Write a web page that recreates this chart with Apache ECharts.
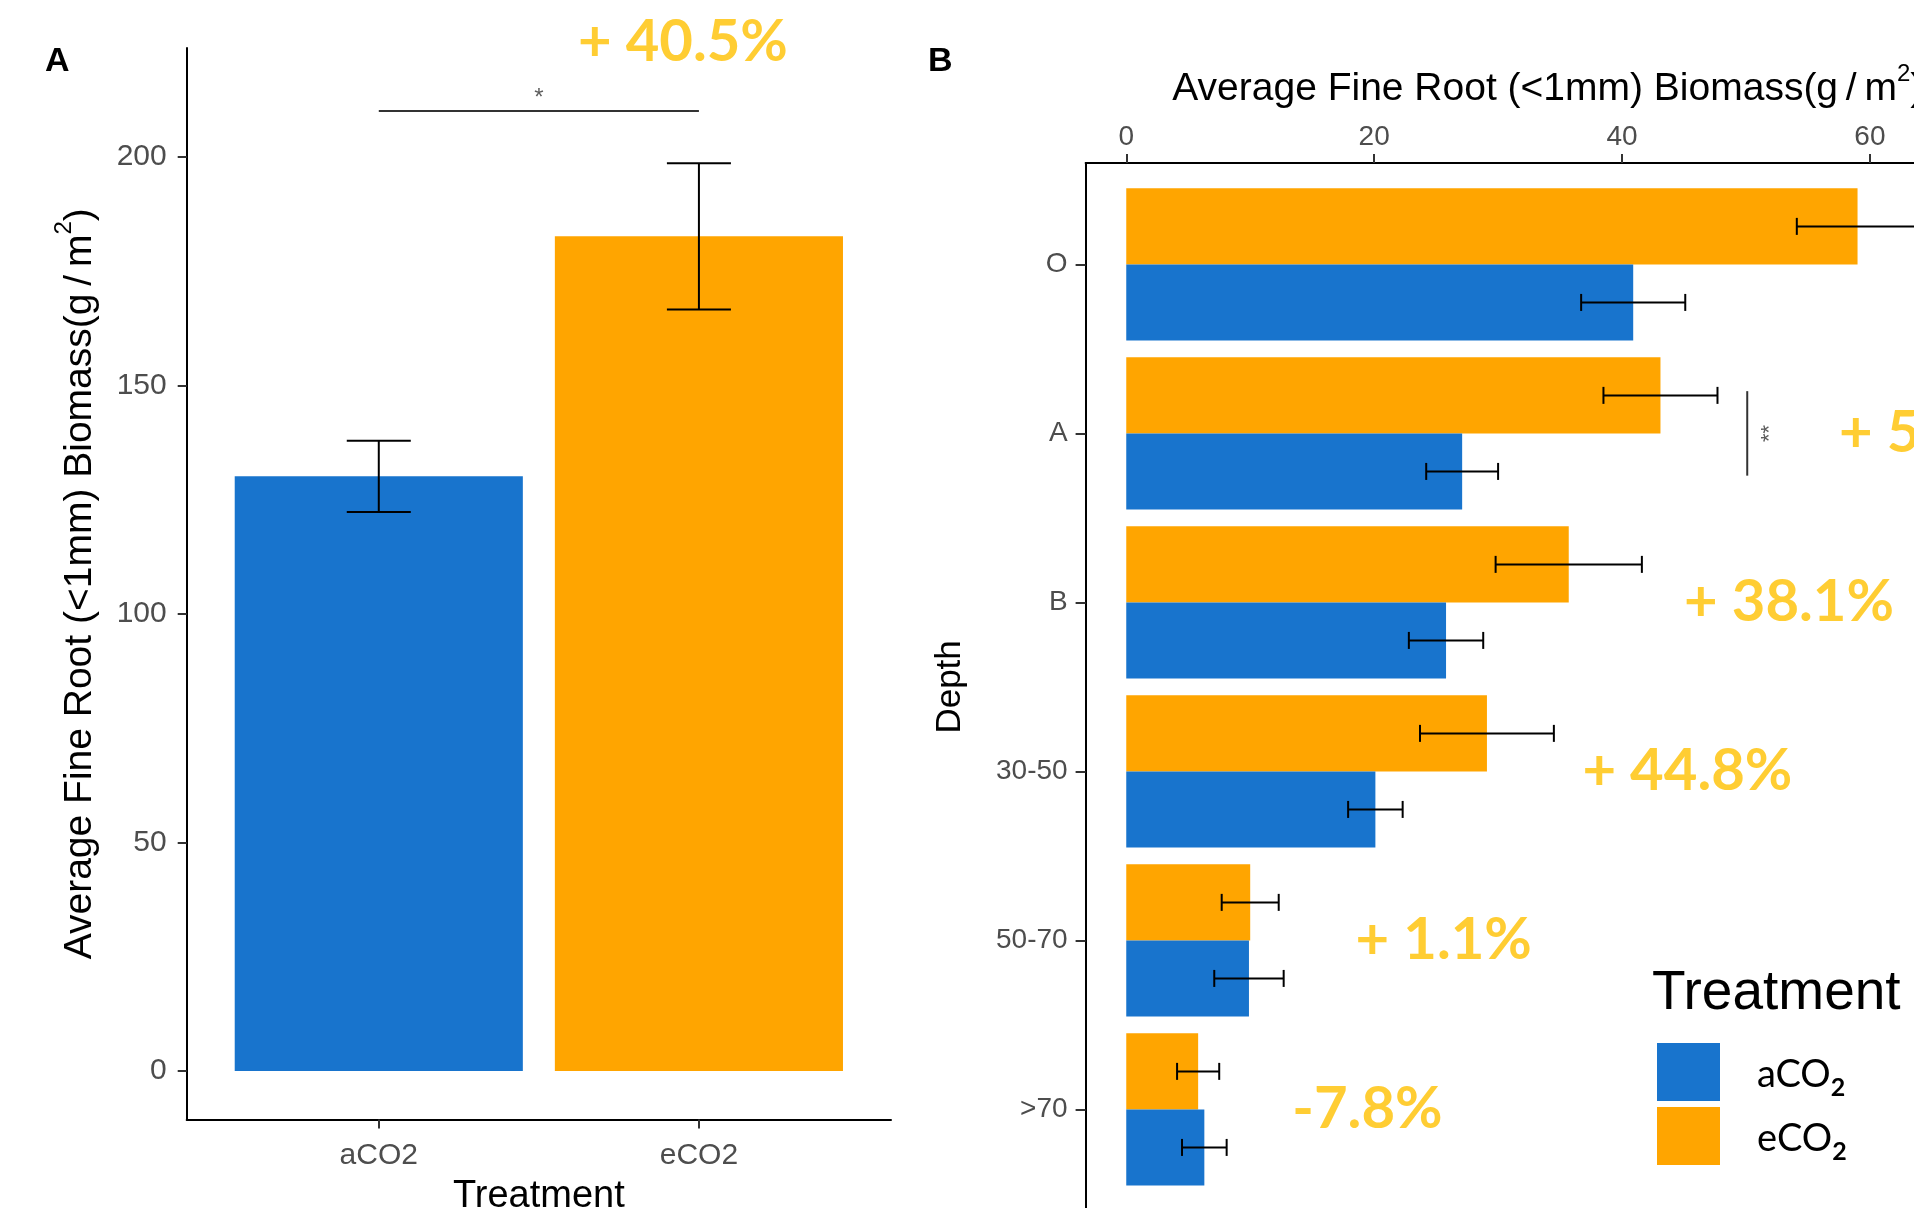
<!DOCTYPE html>
<html>
<head>
<meta charset="utf-8">
<script src="https://cdn.jsdelivr.net/npm/echarts@6.0.0/dist/echarts.min.js"></script>
<style>
  html, body { margin: 0; padding: 0; background: #fff; }
  #chart { width: 1914px; height: 1208px; }
</style>
</head>
<body>
<div id="chart"></div>
<script>
'use strict';

/* Panel A: whole profile */
const treatments = ['aCO2', 'eCO2'];
const totalMean = [130.1, 182.6];
const totalSe = [7.8, 16.0];
const totalChange = '+ 40.5%';

/* Panel B: by depth */
const depths = ['O', 'A', 'B', '30-50', '50-70', '>70'];
const aco2Mean = [40.9, 27.1, 25.8, 20.1, 9.9, 6.3];
const aco2Se = [4.2, 2.9, 3.0, 2.2, 2.8, 1.8];
const eco2Mean = [59.0, 43.1, 35.7, 29.1, 10.0, 5.8];
const eco2Se = [4.9, 4.6, 5.9, 5.4, 2.3, 1.7];

// % change notes; the O one falls off the cropped figure
const changeRows = ['A', 'B', '30-50', '50-70', '>70'];
const changeText = ['+ 59.0%', '+ 38.1%', '+ 44.8%', '+ 1.1%', '-7.8%'];
const changeAt = [57.5, 45.0, 36.8, 18.5, 13.4];

const BLUE = '#1874CD';
const ORANGE = '#FFA500';
const GOLD = '#FFC000';
const SANS = '"Liberation Sans", Arial, sans-serif';
const LATO = 'Lato, "Open Sans", sans-serif';
const colorOf = { aCO2: BLUE, eCO2: ORANGE };

const line = (x1, y1, x2, y2, stroke, w) =>
  ({ type: 'line', shape: { x1, y1, x2, y2 }, style: { stroke, lineWidth: w } });

// vertical bars, panel A (x = treatment position, y = biomass)
const vBars = (name, data) => ({
  type: 'custom', name, xAxisIndex: 0, yAxisIndex: 0,
  itemStyle: { color: colorOf[name] },
  data,
  renderItem: (params, api) => {
    const a = api.coord([api.value(0) - 0.45, api.value(1)]);
    const b = api.coord([api.value(0) + 0.45, 0]);
    return { type: 'rect', shape: { x: a[0], y: a[1], width: b[0] - a[0], height: b[1] - a[1] },
      style: { fill: colorOf[name] } };
  },
});

const vErr = (data) => ({
  type: 'custom', xAxisIndex: 0, yAxisIndex: 0, silent: true, z: 5,
  data,
  renderItem: (params, api) => {
    const x = api.value(0), v = api.value(1), se = api.value(2);
    const t = api.coord([x, v + se]);
    const b = api.coord([x, v - se]);
    const l = api.coord([x - 0.1, v])[0];
    const r = api.coord([x + 0.1, v])[0];
    return { type: 'group', children: [
      line(t[0], t[1], b[0], b[1], '#000', 2),
      line(l, t[1], r, t[1], '#000', 2),
      line(l, b[1], r, b[1], '#000', 2),
    ] };
  },
});

// horizontal bars, panel B (x = biomass, y = depth row 1..6)
const hBars = (name, means, lo, hi) => ({
  type: 'custom', name, xAxisIndex: 1, yAxisIndex: 1,
  itemStyle: { color: colorOf[name] },
  data: means.map((v, i) => [v, i + 1]),
  renderItem: (params, api) => {
    const row = api.value(1);
    const a = api.coord([0, row + lo]);
    const b = api.coord([api.value(0), row + hi]);
    return { type: 'rect',
      shape: { x: a[0], y: Math.min(a[1], b[1]), width: b[0] - a[0], height: Math.abs(b[1] - a[1]) },
      style: { fill: colorOf[name] } };
  },
});

const hErr = (means, ses, off) => ({
  type: 'custom', xAxisIndex: 1, yAxisIndex: 1, silent: true, z: 5,
  data: means.map((v, i) => [v, i + 1, ses[i]]),
  renderItem: (params, api) => {
    const y = api.value(1) + off;
    const l = api.coord([api.value(0) - api.value(2), y]);
    const r = api.coord([api.value(0) + api.value(2), y]);
    const c = 8.5;
    return { type: 'group', children: [
      line(l[0], l[1], r[0], r[1], '#000', 2),
      line(l[0], l[1] - c, l[0], l[1] + c, '#000', 2),
      line(r[0], r[1] - c, r[0], r[1] + c, '#000', 2),
    ] };
  },
});

// text placed at data coordinates
const notes = (xi, data, label) => ({
  type: 'scatter', xAxisIndex: xi, yAxisIndex: xi, symbolSize: 0, silent: true, clip: false, z: 6,
  data,
  label: Object.assign({ show: true, formatter: '{b}' }, label),
});

const tickLabel = (size) => ({ fontFamily: SANS, fontSize: size, color: '#4D4D4D' });
const axisLine = { onZero: false, lineStyle: { color: '#000', width: 2 } };
const tick = (len, values) => ({ length: len, customValues: values, lineStyle: { color: '#333', width: 2 } });

const nameRich = (size) => ({
  a: { fontFamily: SANS, fontSize: size, color: '#000', padding: [8, 0, 0, 0] },
  s: { fontFamily: SANS, fontSize: Math.round(size * 0.62), color: '#000', verticalAlign: 'top' },
});
const biomassName = '{a|Average Fine Root (<1mm) Biomass(g\u2009/\u2009m}{s|2}{a|)}';

const option = {
  backgroundColor: '#fff',
  animation: false,
  title: [
    { text: 'A', left: 45, top: 45, padding: 0,
      textStyle: { fontFamily: SANS, fontWeight: 'bold', fontSize: 34, color: '#000' } },
    { text: 'B', left: 928, top: 45, padding: 0,
      textStyle: { fontFamily: SANS, fontWeight: 'bold', fontSize: 34, color: '#000' } },
    { text: 'Treatment', left: 1652, top: 966, padding: 0,
      textStyle: { fontFamily: SANS, fontWeight: 'normal', fontSize: 55, color: '#000' } },
  ],
  legend: {
    orient: 'vertical', left: 1657, top: 1043, padding: 0,
    itemWidth: 63, itemHeight: 58, itemGap: 6, icon: 'rect', selectedMode: false,
    data: ['aCO2', 'eCO2'],
    formatter: (n) => '{t|' + n.slice(0, 3) + '}{s|2}',
    textStyle: {
      padding: [0, 0, 0, 32],
      rich: {
        t: { fontFamily: LATO, fontSize: 38, color: '#000', padding: [12, 0, 6, 0] },
        s: { fontFamily: LATO, fontSize: 25, fontWeight: 'bold', color: '#000',
          verticalAlign: 'bottom', lineHeight: 18 },
      },
    },
  },
  grid: [
    { left: 186.7, top: 48, width: 704.3, height: 1071.6, outerBoundsMode: 'none' },
    { left: 1085.6, top: 163, width: 924.4, height: 1047.8, outerBoundsMode: 'none' },
  ],
  xAxis: [
    {
      type: 'value', gridIndex: 0, min: 0.4, max: 2.6,
      axisLine, splitLine: { show: false },
      axisTick: tick(9, [1, 2]),
      axisLabel: Object.assign(tickLabel(30), { customValues: [1, 2], margin: 21,
        formatter: (v) => treatments[Math.round(v) - 1] }),
      name: 'Treatment', nameLocation: 'middle', nameGap: 58,
      nameTextStyle: { fontFamily: SANS, fontSize: 38, color: '#000' },
    },
    {
      type: 'value', gridIndex: 1, position: 'top', min: -3.28, max: 71.3,
      axisLine, splitLine: { show: false },
      axisTick: tick(9, [0, 20, 40, 60]),
      axisLabel: Object.assign(tickLabel(28), { customValues: [0, 20, 40, 60], margin: 12 }),
      name: biomassName, nameLocation: 'middle', nameGap: 54,
      nameTextStyle: { rich: nameRich(39) },
    },
  ],
  yAxis: [
    {
      type: 'value', gridIndex: 0, min: -10.61, max: 223.8,
      axisLine, splitLine: { show: false },
      axisTick: tick(9, [0, 50, 100, 150, 200]),
      axisLabel: Object.assign(tickLabel(30), { customValues: [0, 50, 100, 150, 200], margin: 20 }),
      name: biomassName, nameLocation: 'middle', nameGap: 87,
      nameTextStyle: { rich: nameRich(39) },
    },
    {
      type: 'value', gridIndex: 1, inverse: true, min: 0.4, max: 6.6,
      axisLine, splitLine: { show: false },
      axisTick: tick(10, [1, 2, 3, 4, 5, 6]),
      axisLabel: Object.assign(tickLabel(28), { customValues: [1, 2, 3, 4, 5, 6], margin: 18,
        formatter: (v) => depths[Math.round(v) - 1] }),
      name: 'Depth', nameLocation: 'middle', nameGap: 118,
      nameTextStyle: { fontFamily: SANS, fontSize: 35, color: '#000' },
    },
  ],
  series: [
    vBars('aCO2', [[1, totalMean[0]]]),
    vBars('eCO2', [[2, totalMean[1]]]),
    vErr(totalMean.map((v, i) => [i + 1, v, totalSe[i]])),
    {
      type: 'custom', xAxisIndex: 0, yAxisIndex: 0, silent: true,
      data: [[1, 2, 210]],
      renderItem: (params, api) => {
        const a = api.coord([api.value(0), api.value(2)]);
        const b = api.coord([api.value(1), api.value(2)]);
        return line(a[0], a[1], b[0], b[1], '#333', 2);
      },
    },
    notes(0, [{ value: [1.5, 212.7], name: '*' }],
      { position: 'inside', fontFamily: SANS, fontSize: 24, color: '#333' }),
    notes(0, [{ value: [1.95, 225], name: totalChange }],
      { position: 'inside', fontFamily: LATO, fontWeight: 'bold', fontSize: 58, color: GOLD }),

    hBars('eCO2', eco2Mean, -0.45, 0),
    hBars('aCO2', aco2Mean, 0, 0.45),
    hErr(eco2Mean, eco2Se, -0.225),
    hErr(aco2Mean, aco2Se, 0.225),
    {
      type: 'custom', xAxisIndex: 1, yAxisIndex: 1, silent: true,
      data: [[50.1, 2]],
      renderItem: (params, api) => {
        const a = api.coord([api.value(0), api.value(1) - 0.25]);
        const b = api.coord([api.value(0), api.value(1) + 0.25]);
        return line(a[0], a[1], b[0], b[1], '#333', 2);
      },
    },
    notes(1, [{ value: [51.9, 2], name: '**' }],
      { position: 'inside', rotate: 90, fontFamily: SANS, fontSize: 22, color: '#333' }),
    notes(1, changeText.map((t, i) => ({ value: [changeAt[i], depths.indexOf(changeRows[i]) + 1], name: t })),
      { position: 'right', distance: 0, fontFamily: LATO, fontWeight: 'bold', fontSize: 58, color: GOLD }),
  ],
};

const chart = echarts.init(document.getElementById('chart'), null, { renderer: 'canvas' });
chart.setOption(option);
</script>
</body>
</html>
